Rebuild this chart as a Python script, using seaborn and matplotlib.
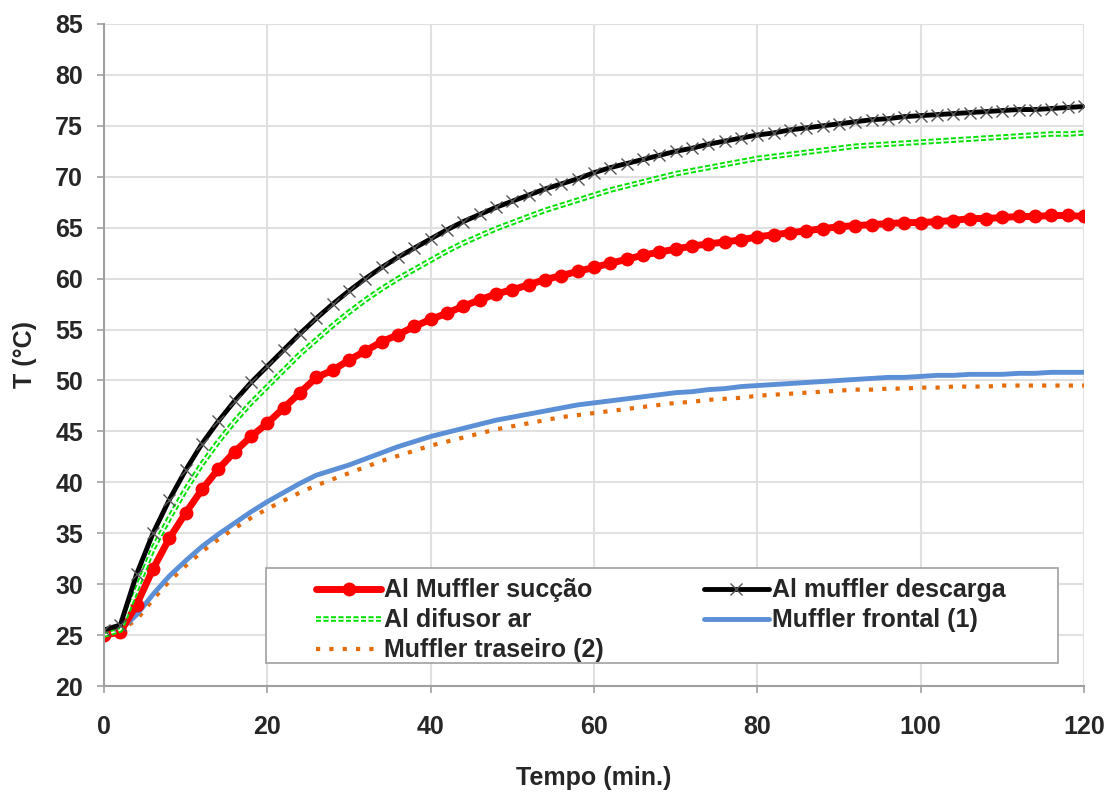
import numpy as np
import pandas as pd
import matplotlib
matplotlib.use("Agg")
import matplotlib.pyplot as plt
import matplotlib.patheffects as pe
from matplotlib.patches import Rectangle
import seaborn as sns

# time axis (min.), readings every 2 minutes
tempo = list(range(0, 121, 2))

al_muffler_succao = [25.0, 25.3, 28.0, 31.5, 34.5, 37.0, 39.3, 41.3, 43.0, 44.5, 45.8,
                     47.3, 48.8, 50.3, 51.0, 52.0, 52.9, 53.8, 54.5, 55.3, 56.0,
                     56.6, 57.3, 57.9, 58.5, 58.9, 59.4, 59.9, 60.3, 60.7, 61.1,
                     61.5, 61.9, 62.3, 62.6, 62.9, 63.2, 63.4, 63.6, 63.8, 64.1,
                     64.3, 64.5, 64.7, 64.9, 65.1, 65.2, 65.3, 65.4, 65.5, 65.5,
                     65.6, 65.7, 65.9, 65.9, 66.0, 66.1, 66.1, 66.2, 66.2, 66.1]
al_muffler_descarga = [25.5, 26.0, 31.0, 35.0, 38.3, 41.2, 43.8, 46.0, 48.0, 49.8, 51.4,
                       53.0, 54.6, 56.1, 57.5, 58.8, 60.0, 61.1, 62.1, 63.0, 63.9,
                       64.8, 65.6, 66.3, 67.0, 67.6, 68.2, 68.8, 69.3, 69.8, 70.4,
                       70.9, 71.3, 71.7, 72.1, 72.5, 72.8, 73.2, 73.5, 73.8, 74.1,
                       74.3, 74.6, 74.8, 75.0, 75.2, 75.4, 75.6, 75.7, 75.9, 76.0,
                       76.1, 76.2, 76.3, 76.4, 76.5, 76.6, 76.6, 76.7, 76.8, 76.9]
al_difusor_ar = [25.0, 25.5, 29.5, 33.5, 36.5, 39.3, 41.8, 44.0, 46.0, 47.8, 49.4,
                 51.0, 52.6, 54.0, 55.4, 56.7, 57.9, 59.0, 60.0, 60.9, 61.8,
                 62.7, 63.5, 64.2, 64.9, 65.5, 66.1, 66.7, 67.2, 67.7, 68.2,
                 68.7, 69.1, 69.5, 69.9, 70.3, 70.6, 70.9, 71.2, 71.5, 71.8,
                 72.0, 72.2, 72.4, 72.6, 72.8, 73.0, 73.1, 73.2, 73.3, 73.4,
                 73.5, 73.6, 73.7, 73.8, 73.9, 74.0, 74.1, 74.2, 74.2, 74.3]
muffler_frontal = [25.5, 25.5, 27.0, 29.0, 30.8, 32.3, 33.7, 34.9, 36.0, 37.1, 38.1,
                   39.0, 39.9, 40.7, 41.2, 41.7, 42.3, 42.9, 43.5, 44.0, 44.5,
                   44.9, 45.3, 45.7, 46.1, 46.4, 46.7, 47.0, 47.3, 47.6, 47.8,
                   48.0, 48.2, 48.4, 48.6, 48.8, 48.9, 49.1, 49.2, 49.4, 49.5,
                   49.6, 49.7, 49.8, 49.9, 50.0, 50.1, 50.2, 50.3, 50.3, 50.4,
                   50.5, 50.5, 50.6, 50.6, 50.6, 50.7, 50.7, 50.8, 50.8, 50.8]
muffler_traseiro = [25.5, 25.5, 26.5, 28.5, 30.3, 31.8, 33.2, 34.4, 35.5, 36.5, 37.4,
                    38.2, 39.0, 39.7, 40.3, 40.9, 41.5, 42.1, 42.6, 43.1, 43.6,
                    44.0, 44.4, 44.8, 45.2, 45.5, 45.8, 46.1, 46.4, 46.6, 46.8,
                    47.0, 47.2, 47.4, 47.6, 47.8, 47.9, 48.1, 48.2, 48.3, 48.5,
                    48.6, 48.7, 48.8, 48.9, 49.0, 49.1, 49.1, 49.2, 49.2, 49.3,
                    49.3, 49.4, 49.4, 49.4, 49.5, 49.5, 49.5, 49.5, 49.5, 49.5]

df = pd.DataFrame({
    "Tempo": tempo,
    "Al Muffler sucção": al_muffler_succao,
    "Al muffler descarga": al_muffler_descarga,
    "Al difusor ar": al_difusor_ar,
    "Muffler frontal (1)": muffler_frontal,
    "Muffler traseiro (2)": muffler_traseiro,
})

sns.set_style("white")
plt.rcParams['font.family'] = ['Liberation Sans', 'DejaVu Sans']
plt.rcParams['font.weight'] = 'bold'

fig = plt.figure(figsize=(11.09, 7.94), dpi=100)
ax = fig.add_axes([0.0938, 0.136, 0.8837, 0.8338])

sns.lineplot(data=df, x="Tempo", y="Muffler traseiro (2)", ax=ax, color="#e46c0a",
             linestyle=(0, (1, 2.2)), linewidth=3, label="Muffler traseiro (2)")
sns.lineplot(data=df, x="Tempo", y="Muffler frontal (1)", ax=ax, color="#5b8fd6",
             linewidth=3.5, label="Muffler frontal (1)")
sns.lineplot(data=df, x="Tempo", y="Al Muffler sucção", ax=ax, color="#ff0000",
             linewidth=5, marker="o", markersize=10, markeredgewidth=0,
             label="Al Muffler sucção")
sns.lineplot(data=df, x="Tempo", y="Al difusor ar", ax=ax, color="white",
             linewidth=1.2, linestyle=(0, (3, 1.5)), label="Al difusor ar",
             path_effects=[pe.Stroke(linewidth=4, foreground="#00e000"), pe.Normal()])
sns.lineplot(data=df, x="Tempo", y="Al muffler descarga", ax=ax, color="black",
             linewidth=3.5, marker="x", markersize=9, markeredgewidth=1,
             markeredgecolor="#555555", label="Al muffler descarga")

ax.set_xlim(0, 120)
ax.set_ylim(20, 85)
ax.set_xticks(range(0, 121, 20))
ax.set_yticks(range(20, 86, 5))
ax.grid(True, color="#e0e0e0", linewidth=1.5)
ax.set_axisbelow(True)
for side in ["top", "right"]:
    ax.spines[side].set_visible(False)
for side in ["left", "bottom"]:
    ax.spines[side].set_color("#a0a0a0")
    ax.spines[side].set_linewidth(1.5)
ax.tick_params(axis="both", which="both", direction="out", length=5, width=1.2,
               color="#a0a0a0", labelsize=18)
ax.tick_params(axis="x", pad=16)
ax.tick_params(axis="y", pad=10)
ax.tick_params(left=True, bottom=True)
for lbl in ax.get_xticklabels() + ax.get_yticklabels():
    lbl.set_fontweight("bold")

ax.set_xlabel("Tempo (min.)", fontsize=18, fontweight="bold", labelpad=19)
ax.set_ylabel("T (°C)", fontsize=18, fontweight="bold", labelpad=13)

# legend frame drawn separately so the columns can sit like the original
ax.add_patch(Rectangle((0.1655, 0.0347), 0.808, 0.1435, transform=ax.transAxes,
                       facecolor="white", edgecolor="#a0a0a0", linewidth=1.2,
                       zorder=4))

handles, labels = ax.get_legend_handles_labels()
order = ["Al Muffler sucção", "Al difusor ar", "Muffler traseiro (2)",
         "Al muffler descarga", "Muffler frontal (1)"]
h = [handles[labels.index(o)] for o in order]
leg = ax.legend(h, order, ncol=2, loc="upper left",
                bbox_to_anchor=(0.2165, 0.1625),
                frameon=False, prop={"size": 18, "weight": "bold"},
                handlelength=2.6, labelspacing=0.24, borderpad=0,
                handletextpad=0.12, columnspacing=4.0, borderaxespad=0)
leg.set_zorder(5)

fig.savefig("out.png", dpi=100)
